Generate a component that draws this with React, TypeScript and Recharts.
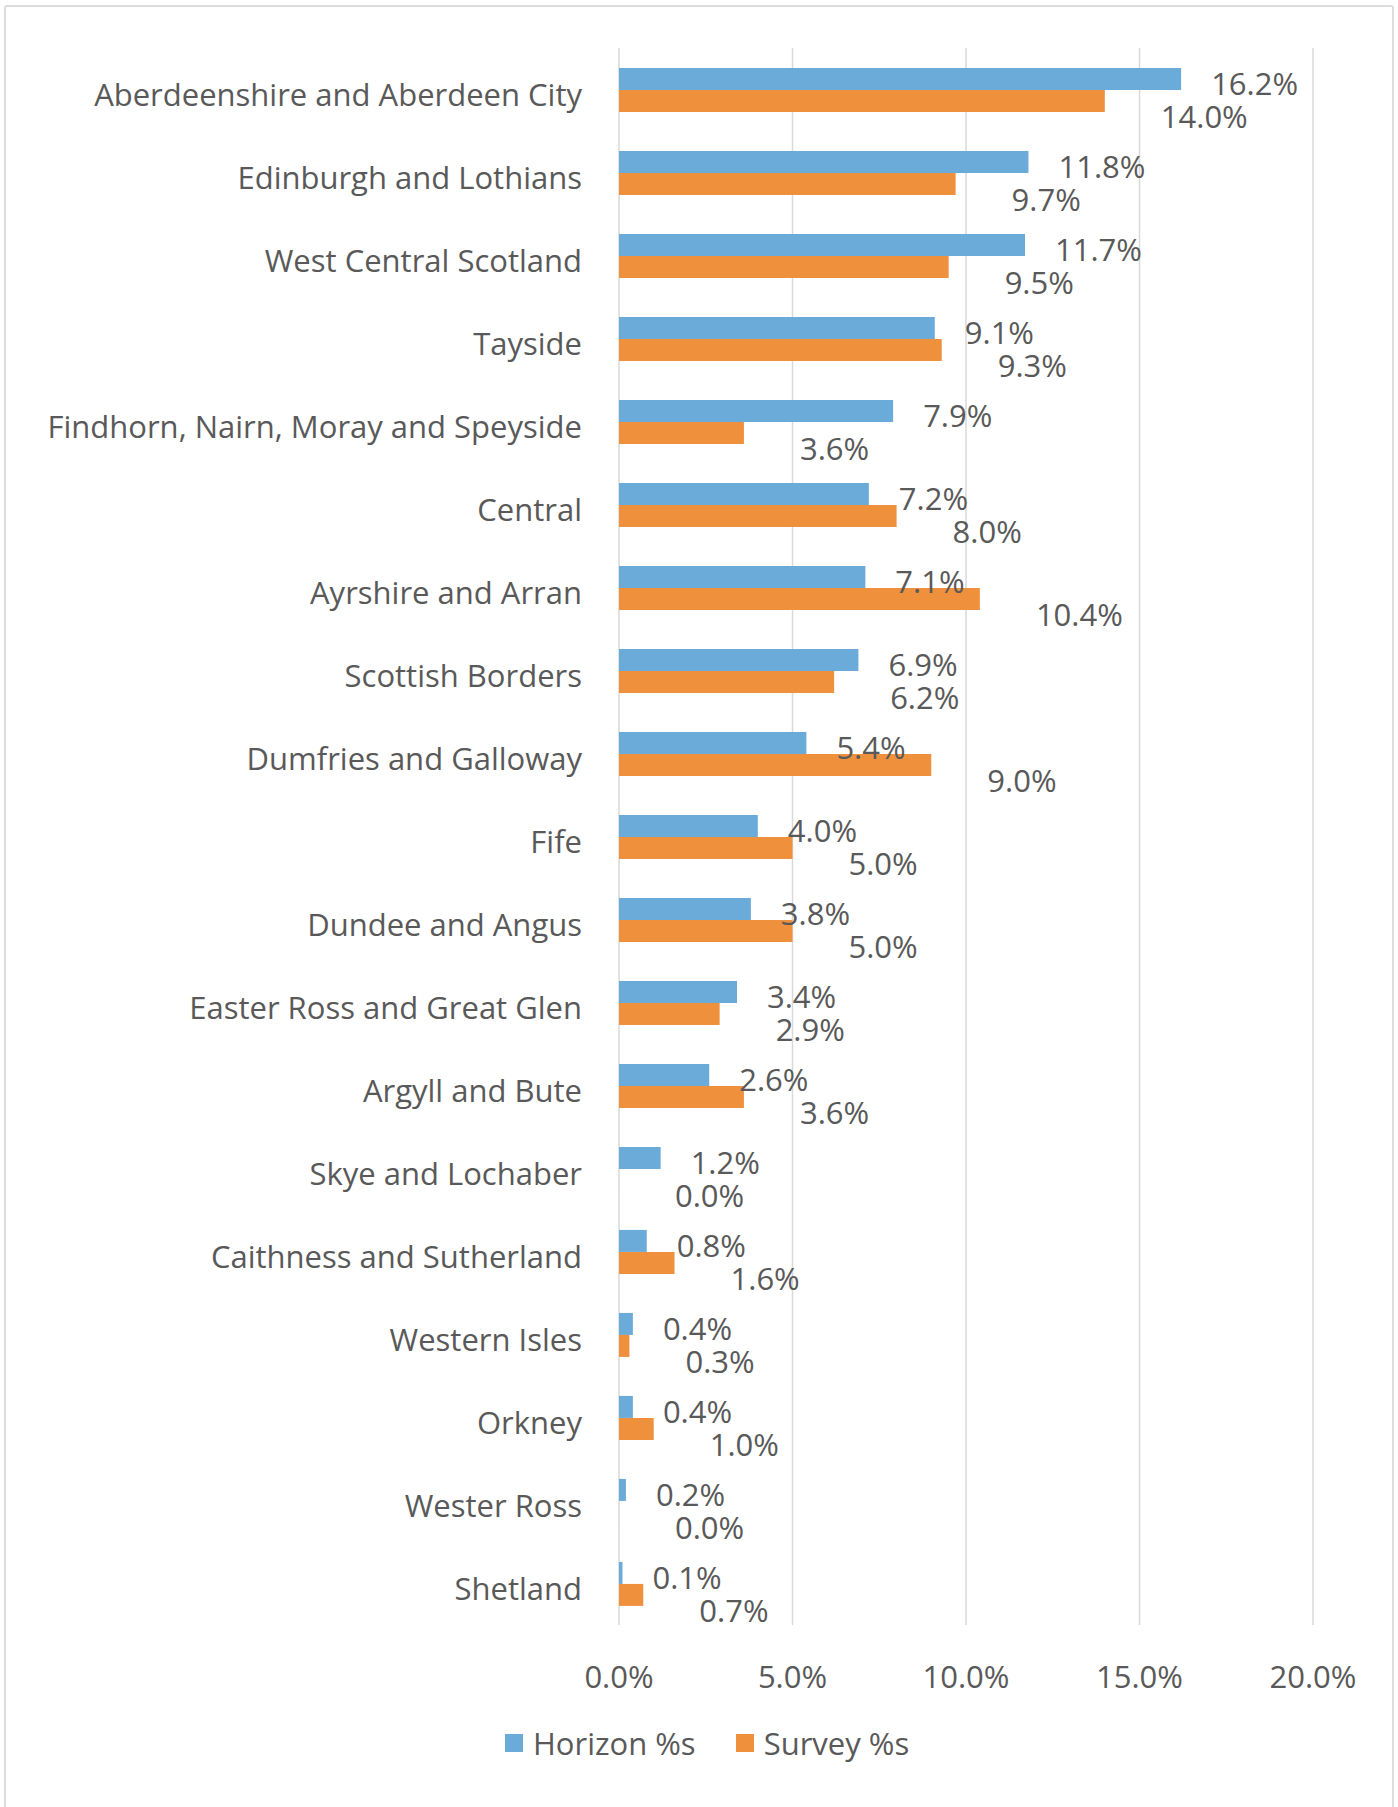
import React from 'react'
import { BarChart, Bar, XAxis, YAxis, CartesianGrid, Legend, LabelList } from 'recharts'

// Regions, top to bottom as shown
const regions = [
  'Aberdeenshire and Aberdeen City',
  'Edinburgh and Lothians',
  'West Central Scotland',
  'Tayside',
  'Findhorn, Nairn, Moray and Speyside',
  'Central',
  'Ayrshire and Arran',
  'Scottish Borders',
  'Dumfries and Galloway',
  'Fife',
  'Dundee and Angus',
  'Easter Ross and Great Glen',
  'Argyll and Bute',
  'Skye and Lochaber',
  'Caithness and Sutherland',
  'Western Isles',
  'Orkney',
  'Wester Ross',
  'Shetland',
]

const horizonPct = [16.2, 11.8, 11.7, 9.1, 7.9, 7.2, 7.1, 6.9, 5.4, 4.0, 3.8, 3.4, 2.6, 1.2, 0.8, 0.4, 0.4, 0.2, 0.1]
const surveyPct = [14.0, 9.7, 9.5, 9.3, 3.6, 8.0, 10.4, 6.2, 9.0, 5.0, 5.0, 2.9, 3.6, 0.0, 1.6, 0.3, 1.0, 0.0, 0.7]

const xTicks = [0, 5, 10, 15, 20]

const seriesNames = ['Horizon %s', 'Survey %s']

const data = regions.map((name, i) => ({
  name,
  horizon: horizonPct[i],
  survey: surveyPct[i],
}))

const FONT = "'Open Sans', sans-serif"
const TEXT = '#595959'
const BLUE = '#6AABDA'
const ORANGE = '#EF903D'
const GRID = '#D9D9D9'

const fmt = (v: number) => `${Number(v).toFixed(1)}%`

const CategoryTick = (props: any) => {
  const { x, y, payload } = props
  return (
    <text x={x} y={y + 16} textAnchor="end" fill={TEXT} fontSize={31} fontFamily={FONT}>
      {payload.value}
    </text>
  )
}

const ValueTick = (props: any) => {
  const { x, y, payload } = props
  return (
    <text x={x} y={y + 63} textAnchor="middle" fill={TEXT} fontSize={31} fontFamily={FONT}>
      {fmt(payload.value)}
    </text>
  )
}

// data labels sit a little right of the bar end (survey ones drop lower, like the original)
const makeLabel = (dx: number, dy: number) => (props: any) => {
  const { x, y, width, height, value } = props
  return (
    <text
      x={Number(x) + Number(width) + dx}
      y={Number(y) + Number(height) / 2 + dy}
      fill={TEXT}
      fontSize={31}
      fontFamily={FONT}
    >
      {fmt(value)}
    </text>
  )
}

const LegendContent = () => (
  <div style={{ display: 'flex', alignItems: 'center', fontFamily: FONT, fontSize: 31, color: TEXT }}>
    <span style={{ width: 18, height: 18, background: BLUE, display: 'inline-block', marginRight: 10 }} />
    <span style={{ marginRight: 40 }}>{seriesNames[0]}</span>
    <span style={{ width: 18, height: 18, background: ORANGE, display: 'inline-block', marginRight: 10 }} />
    <span>{seriesNames[1]}</span>
  </div>
)

export default function App() {
  return (
    <div style={{ position: 'absolute', left: 0, top: 0, width: 1398, height: 1807, overflow: 'hidden', background: '#fff' }}>
      <div
        style={{
          position: 'absolute',
          left: 4,
          top: 5,
          width: 1386,
          height: 1830,
          border: '2px solid #DCDCDC',
          borderRadius: 3,
        }}
      />
      <div style={{ position: 'absolute', left: 0, top: 0 }}>
        <BarChart
          width={1398}
          height={1807}
          data={data}
          layout="vertical"
          margin={{ top: 48, right: 85, bottom: 100, left: 0 }}
          barCategoryGap="24%"
          barGap={0}
        >
          <CartesianGrid horizontal={false} stroke={GRID} strokeWidth={1.5} />
          <XAxis
            type="number"
            domain={[0, 20]}
            ticks={xTicks}
            axisLine={false}
            tickLine={false}
            tickSize={0}
            tickMargin={0}
            height={82}
            tick={<ValueTick />}
          />
          <YAxis
            type="category"
            dataKey="name"
            width={619}
            axisLine={false}
            tickLine={false}
            tickSize={0}
            tickMargin={37}
            interval={0}
            tick={<CategoryTick />}
          />
          <Legend
            layout="horizontal"
            verticalAlign="middle"
            align="center"
            wrapperStyle={{ top: 1722, left: 505, width: 'auto' }}
            content={<LegendContent />}
          />
          <Bar dataKey="horizon" name={seriesNames[0]} fill={BLUE} isAnimationActive={false} minPointSize={0.01}>
            <LabelList dataKey="horizon" content={makeLabel(30, 16)} />
          </Bar>
          <Bar dataKey="survey" name={seriesNames[1]} fill={ORANGE} isAnimationActive={false} minPointSize={0.01}>
            <LabelList dataKey="survey" content={makeLabel(56, 27)} />
          </Bar>
        </BarChart>
      </div>
    </div>
  )
}
